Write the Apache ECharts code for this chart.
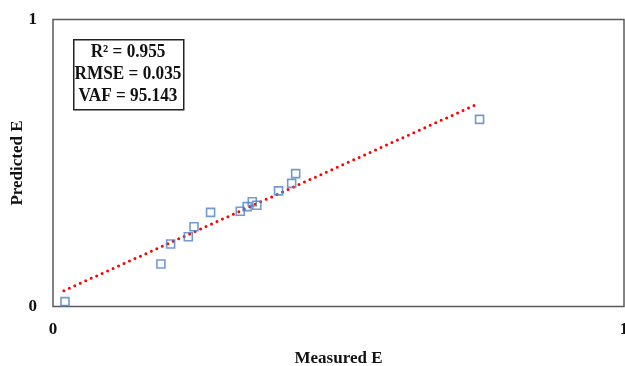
<!DOCTYPE html>
<html><head><meta charset="utf-8">
<script src="https://cdn.jsdelivr.net/npm/echarts@6/dist/echarts.min.js"></script>
<style>html,body{margin:0;padding:0;background:#fff}#c{width:625px;height:366px}</style>
</head><body><div id="c"></div>
<script>
const measured = [0.021,0.189,0.206,0.237,0.247,0.276,0.328,0.340,0.349,0.357,0.395,0.418,0.425,0.747];
const predicted = [0.017,0.148,0.218,0.243,0.278,0.328,0.332,0.348,0.365,0.353,0.403,0.429,0.463,0.652];
const trendX = [0.019,0.746];
const trendY = [0.055,0.708];
const statsLines = ['R\u00B2 = 0.955','RMSE = 0.035','VAF = 95.143'];
const xTicks = [0,1];
const yTicks = [0,1];
const xName = 'Measured E';
const yName = 'Predicted E';

const font = '"Liberation Serif","DejaVu Serif",serif';
const chart = echarts.init(document.getElementById('c'));
chart.setOption({
  animation:false,
  grid:{left:53,top:19.5,right:1,bottom:59.5,show:true,borderColor:'#5a5a5a',borderWidth:1.5,
        backgroundColor:'transparent',outerBoundsMode:'none',containLabel:false},
  graphic:[
    {type:'rect',left:73,top:39,shape:{width:110,height:70},
     style:{fill:'#fff',stroke:'#222',lineWidth:1.5},z:10},
    {type:'text',x:128,y:41,z:11,scaleX:0.93,originX:0,
     style:{text:statsLines.join('\n'),align:'center',verticalAlign:'top',
       font:'bold 18.5px '+font,lineHeight:22,fill:'#111'}}
  ],
  xAxis:{type:'value',min:xTicks[0],max:xTicks[xTicks.length-1],interval:1,
    name:xName,nameLocation:'middle',nameGap:44,nameMoveOverlap:false,
    nameTextStyle:{fontFamily:font,fontWeight:'bold',fontSize:17,color:'#111'},
    axisLine:{show:false},axisTick:{show:false},splitLine:{show:false},
    axisLabel:{fontFamily:font,fontWeight:'bold',fontSize:17,color:'#111',margin:15}},
  yAxis:{type:'value',min:yTicks[0],max:yTicks[yTicks.length-1],interval:1,
    name:yName,nameLocation:'middle',nameGap:27,nameMoveOverlap:false,
    nameTextStyle:{fontFamily:font,fontWeight:'bold',fontSize:17,color:'#111'},
    axisLine:{show:false},axisTick:{show:false},splitLine:{show:false},
    axisLabel:{fontFamily:font,fontWeight:'bold',fontSize:17,color:'#111',margin:16}},
  series:[
    {type:'line',data:trendX.map((x,i)=>[x,trendY[i]]),symbol:'none',
     lineStyle:{color:'#ff0000',width:3,type:[0,6],cap:'round'},z:2},
    {type:'scatter',data:measured.map((x,i)=>[x,predicted[i]]),symbol:'rect',symbolSize:8,
     itemStyle:{color:'rgba(255,255,255,0)',borderColor:'#4f81c4',borderWidth:1.6},z:3}
  ]
});
</script></body></html>
